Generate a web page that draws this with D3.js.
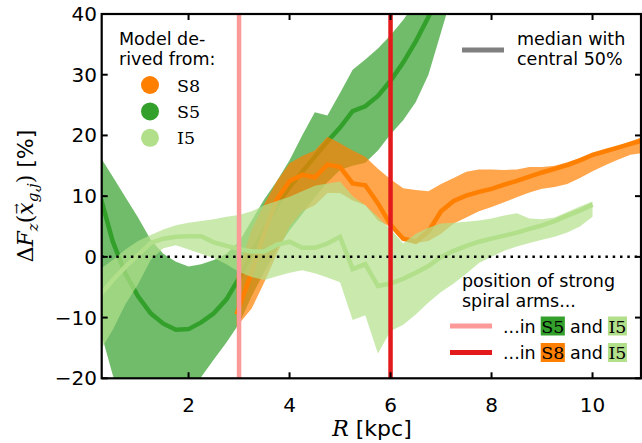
<!DOCTYPE html>
<html>
<head>
<meta charset="utf-8">
<script src="https://cdn.jsdelivr.net/npm/d3@7"></script>
<style>
  html, body { margin: 0; padding: 0; background: #fff; }
  svg { display: block; }
</style>
</head>
<body>
<svg id="chart" width="642" height="443" font-family="DejaVu Sans, sans-serif"></svg>
<script>
// ---- data: median and central-50% envelope of the vertical force residual ----
const rS5 = [0.25,0.5,0.75,1.0,1.25,1.5,1.75,2.0,2.25,2.5,2.75,3.0,3.25,3.5,3.75,4.0,4.25,4.5,4.75,5.0,5.25,5.5,5.75,6.0,6.25,6.5,6.75,7.0,7.25];
const medS5 = [10,2.5,-2.8,-6.5,-9.3,-11,-12,-11.9,-10.8,-9.3,-7,-3.5,0.5,4.5,8.5,11.5,14,16.5,19,21.3,24,24.8,26.5,29,32,35.5,39.5,44,48];
const hiS5 = [16.5,13.2,9.8,6.5,2.8,0.5,-0.8,-1.6,-1.2,-0.5,0.5,2.5,6,9.5,12.5,15.9,20,23.8,23.3,27,30.8,32.5,34.3,36.5,39,42,45,48,51];
const loS5 = [-12,-19.5,-25,-28,-30,-30,-28,-24,-19.8,-16.9,-14.1,-11,-6.5,-2.5,1.2,4.4,7,9.8,12.3,14.3,15,15.5,17.5,20.2,22.5,25.5,30,37,44];

const rS8 = [2.95,3.25,3.5,3.75,4.0,4.25,4.5,4.75,5.0,5.25,5.5,5.75,6.0,6.25,6.5,6.75,7.0,7.25,7.5,7.75,8.0,8.25,8.5,8.75,9.0,9.25,9.5,9.75,10.0,10.25,10.5,10.75,11.0];
const medS8 = [-9.5,-2.5,4,9.5,12.5,13.5,13.1,15.2,14.8,12.1,11.8,8.8,5.3,3.0,2.5,4.2,7.5,9.2,10.1,10.7,11.2,11.9,12.5,13.2,13.9,14.5,15.1,15.9,16.8,17.4,18.0,18.6,19.2];
const hiS8 = [-3,4.5,8.7,12.5,15.4,16.6,17.5,19.8,18.7,17.5,16.5,14.5,12.8,11.3,11.0,10.8,12.0,13.0,14.0,14.4,14.4,14.3,14.4,14.8,14.8,15.0,15.6,16.3,16.9,17.5,18.2,19.0,19.8];
const loS8 = [-11.5,-8.5,-4.2,0.5,5,7.5,8.5,10.5,10.5,9.3,8.5,6,4.9,3.2,2.3,2.6,3.8,5.5,6.5,7.5,8.2,9.0,9.8,10.6,11.2,11.5,12.0,13.0,14.1,15.1,16.0,16.8,17.1];

const rI5 = [0.25,0.5,0.75,1.0,1.25,1.5,1.75,2.0,2.25,2.5,2.75,3.0,3.25,3.5,3.75,4.0,4.25,4.5,4.75,5.0,5.25,5.5,5.75,6.0,6.25,6.5,6.75,7.0,7.25,7.5,7.75,8.0,8.25,8.5,8.75,9.0,9.25,9.5,9.75,10.0];
const medI5 = [-6.3,-3.8,-1.6,0.3,2.3,3.0,3.3,3.4,3.4,2.4,1.8,1.3,0.9,0.9,2.0,2.5,1.5,1.5,2.2,3.3,-2.0,-1.2,-4.8,-4.4,-3.6,-2.6,-1.5,0.0,1.0,1.8,2.5,3.0,3.5,4.0,4.6,5.2,5.9,6.8,7.6,8.6];
const hiI5 = [-2,-0.5,1.2,2.6,3.6,4.5,5.2,5.6,5.9,6.2,6.6,6.9,7.5,8.5,9.2,9.9,10.8,11.7,12.1,12.4,10.0,8.5,6.6,4.5,2.2,3.8,4.8,5.5,5.6,5.8,6.0,6.3,6.8,7.2,6.3,6.2,6.5,7.4,8.3,9.1];
const loI5 = [-15.5,-12,-7.8,-4.5,-0.5,1.4,1.9,1.2,0.5,-0.2,-1.2,-2.5,-3.3,-3.8,-3.2,-2.6,-2.2,-2.7,-3.4,-4.2,-10.4,-9.6,-15.9,-12.2,-11.2,-9.5,-7.5,-5.8,-4.4,-2.8,-1.0,0.0,1.0,1.7,2.3,2.8,3.3,4.0,5.0,6.6];

const armsS5I5 = 3.0;   // strong arms in S5 and I5
const armsS8I5 = 6.0;   // strong arms in S8 and I5

const xTicks = [2,4,6,8,10];
const yTicks = [-20,-10,0,10,20,30,40];

const colS8 = "#ff7f00", colS5 = "#33a02c", colI5 = "#b2df8a";
const colArm1 = "#fb9a99", colArm2 = "#e31a1c";

// ---- layout ----
const svg = d3.select("#chart");
const pL = 101.7, pR = 641, pT = 14, pB = 378.3;
const x = d3.scaleLinear().domain([0.28, 10.96]).range([pL, pR]);
const y = d3.scaleLinear().domain([-20, 40]).range([pB, pT]);
const serif = "DejaVu Serif, serif";

svg.append("defs").append("clipPath").attr("id", "plotclip")
  .append("rect").attr("x", pL).attr("y", pT).attr("width", pR - pL).attr("height", pB - pT);

const plot = svg.append("g").attr("clip-path", "url(#plotclip)");

function series(r, med, lo, hi, color) {
  const rows = r.map((v, i) => ({ r: v, m: med[i], lo: lo[i], hi: hi[i] }));
  const area = d3.area().x(d => x(d.r)).y0(d => y(d.lo)).y1(d => y(d.hi));
  const line = d3.line().x(d => x(d.r)).y(d => y(d.m));
  plot.append("path").attr("d", area(rows)).attr("fill", color).attr("fill-opacity", 0.7);
  plot.append("path").attr("d", line(rows)).attr("fill", "none").attr("stroke", color)
    .attr("stroke-width", 4.5).attr("stroke-linejoin", "miter");
}
series(rS5, medS5, loS5, hiS5, colS5);
series(rS8, medS8, loS8, hiS8, colS8);
series(rI5, medI5, loI5, hiI5, colI5);

// zero reference
plot.append("line").attr("x1", pL).attr("x2", pR).attr("y1", y(0)).attr("y2", y(0))
  .attr("stroke", "#000").attr("stroke-width", 2.5).attr("stroke-dasharray", "2.5,4.8");

// spiral arm positions
[[armsS5I5, colArm1], [armsS8I5, colArm2]].forEach(([r, c]) => {
  plot.append("line").attr("x1", x(r)).attr("x2", x(r)).attr("y1", pT).attr("y2", pB)
    .attr("stroke", c).attr("stroke-width", 4.5);
});

// ---- frame and ticks (inward, on all sides) ----
const axes = svg.append("g");
const tl = 6;
xTicks.forEach(t => {
  axes.append("line").attr("x1", x(t)).attr("x2", x(t)).attr("y1", pB).attr("y2", pB - tl).attr("stroke", "#000").attr("stroke-width", 2);
  axes.append("line").attr("x1", x(t)).attr("x2", x(t)).attr("y1", pT).attr("y2", pT + tl).attr("stroke", "#000").attr("stroke-width", 2);
  axes.append("text").attr("x", x(t)).attr("y", 412).attr("text-anchor", "middle")
    .attr("font-size", 20).text(d3.format("d")(t));
});
yTicks.forEach(t => {
  axes.append("line").attr("x1", pL).attr("x2", pL + tl).attr("y1", y(t)).attr("y2", y(t)).attr("stroke", "#000").attr("stroke-width", 2);
  axes.append("line").attr("x1", pR).attr("x2", pR - tl).attr("y1", y(t)).attr("y2", y(t)).attr("stroke", "#000").attr("stroke-width", 2);
  axes.append("text").attr("x", 97).attr("y", y(t) + 7).attr("text-anchor", "end")
    .attr("font-size", 20).text(t < 0 ? "\u2212" + Math.abs(t) : String(t));
});
axes.append("rect").attr("x", pL).attr("y", pT).attr("width", pR - pL).attr("height", pB - pT)
  .attr("fill", "none").attr("stroke", "#000").attr("stroke-width", 2.2);

// axis titles
const xl = svg.append("text").attr("x", 372).attr("y", 436).attr("text-anchor", "middle").attr("font-size", 22);
xl.append("tspan").attr("font-family", serif).attr("font-style", "italic").text("R");
xl.append("tspan").text(" [kpc]");

const yl = svg.append("text").attr("transform", "translate(33,196) rotate(-90)")
  .attr("text-anchor", "middle").attr("font-size", 22);
yl.append("tspan").attr("font-family", serif).text("\u0394");
yl.append("tspan").attr("font-family", serif).attr("font-style", "italic").text("F");
yl.append("tspan").attr("font-family", serif).attr("font-style", "italic").attr("font-size", 15).attr("dy", 5).text("z");
yl.append("tspan").attr("font-family", serif).attr("dy", -5).text("(");
yl.append("tspan").attr("font-family", serif).attr("font-style", "italic").text("x");
// vector arrow over x
yl.append("tspan").attr("font-family", serif).attr("font-size", 13).attr("dx", -12).attr("dy", -12).text("\u2192");
yl.append("tspan").attr("font-family", serif).attr("font-style", "italic").attr("font-size", 15).attr("dx", 1).attr("dy", 17).text("g,j");
yl.append("tspan").attr("font-family", serif).attr("dy", -5).text(")");
yl.append("tspan").text(" [%]");

// ---- legend: models ----
const fs = 17.5;
svg.append("text").attr("x", 119).attr("y", 45).attr("font-size", fs).text("Model de-");
svg.append("text").attr("x", 119).attr("y", 65).attr("font-size", fs).text("rived from:");
[["S8", colS8], ["S5", colS5], ["I5", colI5]].forEach(([name, c], i) => {
  const cy = 85 + i * 26.4;
  svg.append("circle").attr("cx", 150).attr("cy", cy).attr("r", 9).attr("fill", c);
  svg.append("text").attr("x", 177).attr("y", cy + 6.5).attr("font-size", fs)
    .attr("font-family", serif).text(name);
});

// ---- legend: median / envelope ----
svg.append("line").attr("x1", 462).attr("x2", 504).attr("y1", 50).attr("y2", 50)
  .attr("stroke", "#808080").attr("stroke-width", 5);
svg.append("text").attr("x", 517).attr("y", 45).attr("font-size", fs).text("median with");
svg.append("text").attr("x", 517).attr("y", 64.5).attr("font-size", fs).text("central 50%");

// ---- legend: spiral arms ----
svg.append("text").attr("x", 462).attr("y", 287).attr("font-size", fs).text("position of strong");
svg.append("text").attr("x", 462).attr("y", 306.5).attr("font-size", fs).text("spiral arms...");

function armEntry(cy, col, model, modelCol) {
  svg.append("line").attr("x1", 450).attr("x2", 492).attr("y1", cy).attr("y2", cy)
    .attr("stroke", col).attr("stroke-width", 5);
  let cx = 503;
  const base = cy + 6.5;
  const put = (txt, bg, isSerif) => {
    const g = svg.append("g");
    const t = g.append("text").attr("x", cx).attr("y", base).attr("font-size", fs).text(txt);
    if (isSerif) t.attr("font-family", serif);
    const w = t.node().getComputedTextLength();
    if (bg) {
      g.insert("rect", "text").attr("x", cx - 0.5).attr("y", cy - 9.5).attr("width", w + 1).attr("height", 19).attr("fill", bg);
    }
    cx += w;
  };
  put("...in\u00A0", null, false);
  put(model, modelCol, true);
  put("\u00A0and\u00A0", null, false);
  put("I5", colI5, true);
}
armEntry(326, colArm1, "S5", colS5);
armEntry(352.5, colArm2, "S8", colS8);
</script>
</body>
</html>
